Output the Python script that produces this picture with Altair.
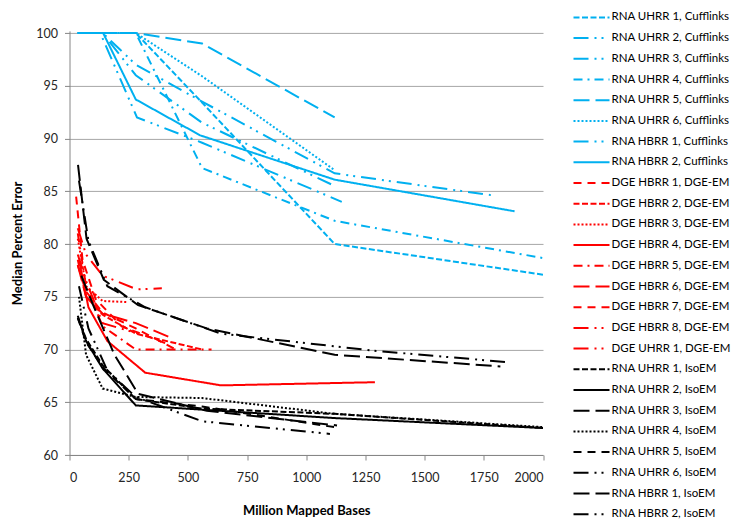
import altair as alt
import pandas as pd

# ---------------- data ----------------
series_names = [
    "RNA UHRR 1, Cufflinks", "RNA UHRR 2, Cufflinks", "RNA UHRR 3, Cufflinks",
    "RNA UHRR 4, Cufflinks", "RNA UHRR 5, Cufflinks", "RNA UHRR 6, Cufflinks",
    "RNA HBRR 1, Cufflinks", "RNA HBRR 2, Cufflinks",
    "DGE HBRR 1, DGE-EM", "DGE HBRR 2, DGE-EM", "DGE HBRR 3, DGE-EM",
    "DGE HBRR 4, DGE-EM", "DGE HBRR 5, DGE-EM", "DGE HBRR 6, DGE-EM",
    "DGE HBRR 7, DGE-EM", "DGE HBRR 8, DGE-EM", "DGE UHRR 1, DGE-EM",
    "RNA UHRR 1, IsoEM", "RNA UHRR 2, IsoEM", "RNA UHRR 3, IsoEM",
    "RNA UHRR 4, IsoEM", "RNA UHRR 5, IsoEM", "RNA UHRR 6, IsoEM",
    "RNA HBRR 1, IsoEM", "RNA HBRR 2, IsoEM",
]

x_ticks = [0, 250, 500, 750, 1000, 1250, 1500, 1750, 2000]
y_ticks = [60, 65, 70, 75, 80, 85, 90, 95, 100]

# Cufflinks (blue)
cuff_uhrr1_x = [35, 70, 140, 280, 560, 1120, 2240]
cuff_uhrr1_y = [100, 100, 100, 100, 93.4, 80.0, 76.3]
cuff_uhrr2_x = [35, 70, 140, 280, 560, 1120, 1790]
cuff_uhrr2_y = [100, 100, 100, 97.0, 93.5, 86.7, 84.6]
cuff_uhrr3_x = [35, 70, 140, 280, 560, 1120]
cuff_uhrr3_y = [100, 100, 100, 96.0, 91.5, 85.5]
cuff_uhrr4_x = [35, 70, 140, 280, 560, 1120, 2240]
cuff_uhrr4_y = [100, 100, 100, 100, 87.2, 82.2, 77.7]
cuff_uhrr5_x = [35, 70, 140, 280, 560, 1120]
cuff_uhrr5_y = [100, 100, 100, 100, 99.0, 92.0]
cuff_uhrr6_x = [35, 70, 140, 280, 560, 1120]
cuff_uhrr6_y = [100, 100, 100, 100, 95.9, 87.0]
cuff_hbrr1_x = [35, 70, 130, 285, 560, 1150]
cuff_hbrr1_y = [100, 100, 100, 92.0, 89.6, 84.0]
cuff_hbrr2_x = [35, 70, 142, 280, 552, 1120, 1880]
cuff_hbrr2_y = [100, 100, 100, 93.7, 90.3, 86.1, 83.1]

# DGE-EM (red)
dge_hbrr1_x = [35, 70, 140, 280, 450]
dge_hbrr1_y = [78.0, 75.5, 73.5, 72.0, 70.0]
dge_hbrr2_x = [35, 70, 140, 280, 560]
dge_hbrr2_y = [78.5, 75.0, 73.3, 71.5, 70.0]
dge_hbrr3_x = [35, 70, 140, 245]
dge_hbrr3_y = [80.5, 76.0, 74.6, 74.5]
dge_hbrr4_x = [40, 80, 160, 320, 640, 1290]
dge_hbrr4_y = [78.5, 74.0, 70.8, 67.8, 66.6, 66.9]
dge_hbrr5_x = [35, 70, 140, 280, 600]
dge_hbrr5_y = [81.0, 76.0, 72.2, 70.0, 70.0]
dge_hbrr6_x = [35, 70, 140, 280, 420]
dge_hbrr6_y = [78.0, 75.0, 73.4, 72.5, 71.2]
dge_hbrr7_x = [28, 55, 110, 220, 404]
dge_hbrr7_y = [84.5, 78.5, 74.8, 72.2, 70.6]
dge_hbrr8_x = [35, 70, 140, 290]
dge_hbrr8_y = [79.0, 76.5, 72.5, 71.5]
dge_uhrr1_x = [35, 70, 140, 285, 390]
dge_uhrr1_y = [81.5, 79.0, 77.0, 75.7, 75.8]

# IsoEM (black)
iso_uhrr1_x = [35, 70, 140, 280, 560, 1120, 2240]
iso_uhrr1_y = [73.0, 71.0, 68.5, 65.3, 64.4, 63.9, 62.2]
iso_uhrr2_x = [35, 70, 140, 280, 560, 1120, 2240]
iso_uhrr2_y = [73.2, 70.8, 68.2, 64.7, 64.3, 63.5, 62.3]
iso_uhrr3_x = [50, 100, 190, 290, 580, 1130]
iso_uhrr3_y = [77.0, 74.2, 69.5, 65.8, 64.2, 62.8]
iso_uhrr4_x = [40, 70, 140, 280, 560, 1120, 2240]
iso_uhrr4_y = [75.0, 69.5, 66.3, 65.5, 65.4, 63.9, 62.3]
iso_uhrr5_x = [35, 70, 140, 280, 560, 1130]
iso_uhrr5_y = [73.0, 70.7, 68.3, 65.3, 64.6, 62.6]
iso_uhrr6_x = [40, 80, 160, 280, 560, 1100]
iso_uhrr6_y = [76.0, 72.0, 68.0, 65.5, 63.2, 62.0]
iso_hbrr1_x = [36, 72, 145, 290, 580, 1120, 1820]
iso_hbrr1_y = [87.5, 80.5, 76.6, 74.2, 72.0, 69.5, 68.4]
iso_hbrr2_x = [40, 80, 160, 320, 640, 1280, 1850]
iso_hbrr2_y = [86.0, 80.3, 76.0, 74.0, 71.5, 69.9, 68.8]

series_x = [cuff_uhrr1_x, cuff_uhrr2_x, cuff_uhrr3_x, cuff_uhrr4_x, cuff_uhrr5_x,
            cuff_uhrr6_x, cuff_hbrr1_x, cuff_hbrr2_x,
            dge_hbrr1_x, dge_hbrr2_x, dge_hbrr3_x, dge_hbrr4_x, dge_hbrr5_x,
            dge_hbrr6_x, dge_hbrr7_x, dge_hbrr8_x, dge_uhrr1_x,
            iso_uhrr1_x, iso_uhrr2_x, iso_uhrr3_x, iso_uhrr4_x, iso_uhrr5_x,
            iso_uhrr6_x, iso_hbrr1_x, iso_hbrr2_x]
series_y = [cuff_uhrr1_y, cuff_uhrr2_y, cuff_uhrr3_y, cuff_uhrr4_y, cuff_uhrr5_y,
            cuff_uhrr6_y, cuff_hbrr1_y, cuff_hbrr2_y,
            dge_hbrr1_y, dge_hbrr2_y, dge_hbrr3_y, dge_hbrr4_y, dge_hbrr5_y,
            dge_hbrr6_y, dge_hbrr7_y, dge_hbrr8_y, dge_uhrr1_y,
            iso_uhrr1_y, iso_uhrr2_y, iso_uhrr3_y, iso_uhrr4_y, iso_uhrr5_y,
            iso_uhrr6_y, iso_hbrr1_y, iso_hbrr2_y]

# ---------------- styles ----------------
BLUE, RED, BLACK = "#00B0F0", "#FF0000", "#000000"
SYSDASH = [6, 2.5]
DASH = [8, 6]
DASHDOT = [9, 5, 2, 5]
LGDASH = [16, 6]
LGDASHDOTDOT = [15, 6, 2, 5, 2, 6]
SYSDOT = [2, 2]
SOLID = [1, 0]

series_colors = [BLUE] * 8 + [RED] * 9 + [BLACK] * 8
series_dashes = [
    SYSDASH, LGDASHDOTDOT, LGDASHDOTDOT, DASHDOT, LGDASH, SYSDOT, LGDASHDOTDOT, SOLID,
    DASH, SYSDASH, SYSDOT, SOLID, DASHDOT, LGDASH, DASH, LGDASHDOTDOT, LGDASHDOTDOT,
    SYSDASH, SOLID, LGDASH, SYSDOT, DASH, LGDASHDOTDOT, LGDASH, LGDASHDOTDOT,
]

rows = []
for name, xs, ys in zip(series_names, series_x, series_y):
    for xv, yv in zip(xs, ys):
        rows.append({"series": name, "x": xv, "y": yv})
df = pd.DataFrame(rows)

FONT = "Lato"

legend_cfg = dict(
    title=None,
    orient="none",
    legendX=512,
    legendY=-23.5,
    symbolType="M-2,0L2,0",
    symbolSize=324,
    symbolStrokeWidth=2,
    labelOffset=10,
    rowPadding=4.7,
    labelFontSize=11.5,
    labelFont=FONT,
    labelColor="#000000",
    labelLimit=200,
)

chart = (
    alt.Chart(df)
    .mark_line(strokeWidth=2, clip=True)
    .encode(
        x=alt.X(
            "x:Q",
            scale=alt.Scale(domain=[0, 2000], nice=False, zero=False),
            axis=alt.Axis(
                values=x_ticks,
                format="d",
                title="Million Mapped Bases",
                grid=False,
                tickSize=5,
                labelPadding=11,
                titlePadding=21,
            ),
        ),
        y=alt.Y(
            "y:Q",
            scale=alt.Scale(domain=[60, 100.2], nice=False, zero=False),
            axis=alt.Axis(
                values=y_ticks,
                title="Median Percent Error",
                grid=True,
                tickSize=5,
                labelPadding=7,
                titlePadding=11,
            ),
        ),
        color=alt.Color(
            "series:N",
            sort=series_names,
            scale=alt.Scale(domain=series_names, range=series_colors),
            legend=alt.Legend(**legend_cfg),
        ),
        strokeDash=alt.StrokeDash(
            "series:N",
            sort=series_names,
            scale=alt.Scale(domain=series_names, range=series_dashes),
            legend=alt.Legend(**legend_cfg),
        ),
    )
    .properties(
        width=473.5,
        height=424.1,
        autosize=alt.AutoSizeParams(type="none"),
        padding={"left": 61.5, "top": 22.9, "right": 191, "bottom": 66},
    )
    .configure_view(stroke=None)
    .configure_axis(
        labelFont=FONT,
        titleFont=FONT,
        labelFontSize=12.5,
        titleFontSize=13,
        titleFontWeight="bold",
        labelColor="#262626",
        titleColor="#000000",
        domainColor="#868686",
        tickColor="#868686",
        gridColor="#a6a6a6",
        gridWidth=1,
        domainWidth=1,
    )
)

chart.save("out.html", embed_options={"renderer": "svg", "actions": False})
